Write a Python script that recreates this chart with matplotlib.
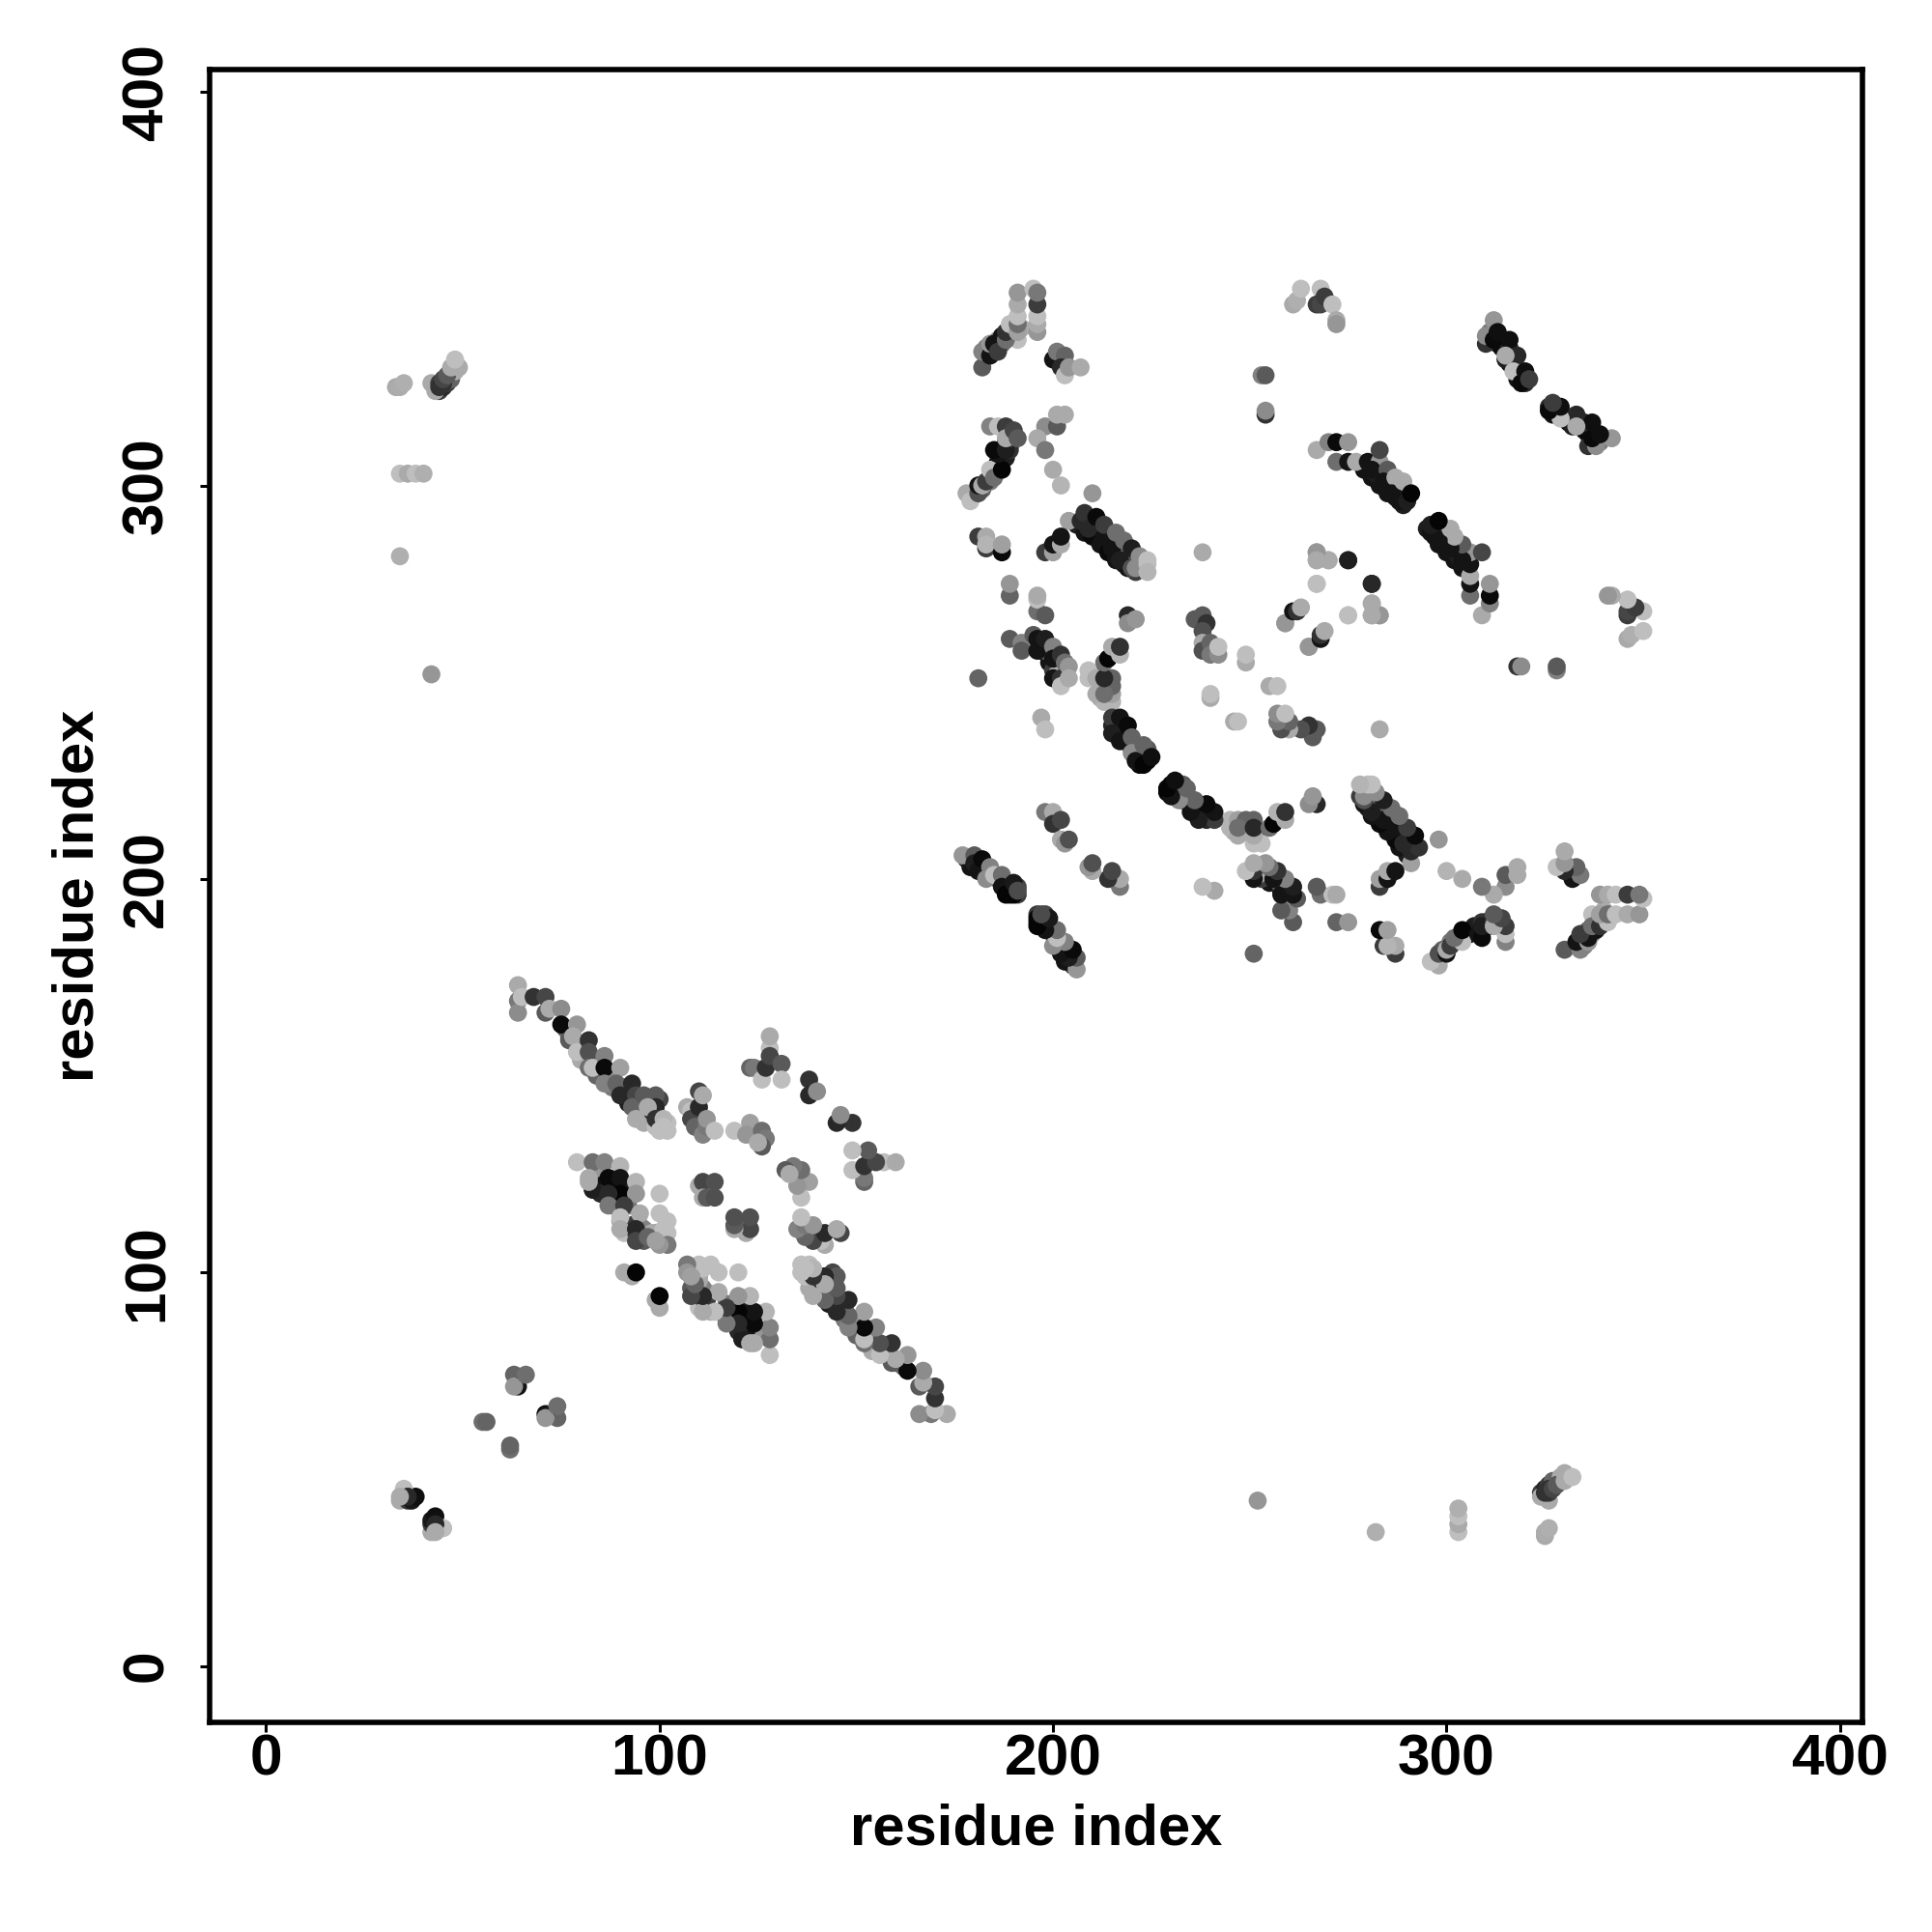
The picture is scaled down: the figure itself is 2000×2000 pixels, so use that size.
import matplotlib
matplotlib.use("Agg")
import matplotlib.pyplot as plt

plt.rcParams['font.family'] = ['Liberation Sans', 'DejaVu Sans']

tick_values = [0, 100, 200, 300, 400]
axis_title = "residue index"

# Each contact is read once (i < j, above the diagonal) and drawn at (i, j) and (j, i).
# Contacts hidden under the outer rows of each strand, drawn first.
under1_i = [76,77,80,80,84,84,88,88,91,92,92,95,95,97,96,99,98,100,102,102,100]
under1_j = [162,160,157,154,153,150,150,147,147,145,143,143,141,140,138,137,141,138,138,136,144]
under1_s = [100,100,120,170,120,100,140,120,60,40,30,80,120,90,170,190,40,60,190,190,70]

under2_i = [84,85,88,85,88,91,92,89,92,88,90,91,95,93,94,96,99,98,101,101,100,96]
under2_j = [124,122,121,120,123,121,122,119,117,117,113,110,112,112,110,111,110,110,109,111,108,108]
under2_s = [150,20,50,40,10,10,30,60,120,100,170,190,170,60,60,130,150,170,180,190,130,90]

under3_i = [183,183,185,186,187,187,189,190,188,192,191,196]
under3_j = [333,335,334,337,336,338,338,340,337,340,337,339]
under3_s = [60,130,20,150,100,20,20,60,120,170,190,150]

under4_i = [186,187,186,187,188,189,189,190,188,182,184,184,185]
under4_j = [304,306,306,308,307,310,309,312,311,299,301,302,304]
under4_s = [10,10,20,20,30,40,50,70,60,100,120,60,60]

under5_i = [206,208,210,212,214,216,218,219,221,210,212,214,216,218,220,222]
under5_j = [290,288,287,285,283,281,280,279,278,291,290,288,286,284,282,280]
under5_s = [30,20,10,20,10,20,30,20,60,40,60,70,90,100,90,120]

under6_i = [216,216,215,218,219,220,221,222,221,218,223,224,222,224]
under6_j = [240,238,239,236,235,233,232,231,234,238,232,230,229,233]
under6_s = [20,20,40,20,30,20,20,140,50,10,10,10,5,90]

under7_i = [197,199,200,201,200,198]
under7_j = [258,255,253,252,251,258]
under7_s = [10,20,60,170,20,100]

under8_i = [279,281,283,285,287,289,282,284,286,288]
under8_j = [304,302,300,298,297,295,303,301,299,297]
under8_s = [20,20,20,20,20,30,30,30,30,30]

under9_i = [311,311,313,314,315,316,316,317,318,319,318,320]
under9_j = [337,339,336,335,335,335,331,331,330,327,327,326]
under9_s = [40,120,10,10,15,40,10,15,170,10,20,40]

under10_i = [44,45,46,47,43,45,47,48]
under10_j = [324,325,326,327,324,326,329,329]
under10_s = [60,40,60,100,170,50,90,170]

under11_i = [178,179,181,183,183,186,188,189,187,191,191,189,189]
under11_j = [205,203,204,203,201,200,199,198,199,196,198,196,197]
under11_s = [50,20,100,30,40,20,110,60,100,60,70,10,30]

under12_i = [212,213,214,212,212]
under12_j = [246,245,247,250,252]
under12_s = [170,180,170,50,40]

nterm_i = [33,34,35,42,44,44,45,46,47,49,48]
nterm_j = [325,325,326,326,326,325,327,328,330,330,332]
nterm_s = [170,172,175,170,60,50,70,90,170,170,190]

far_i = [34,36,38,40,34,42]
far_j = [303,303,303,303,282,252]
far_s = [190,170,190,175,175,150]

near_i = [34,35,36,37,38,35,36,34]
near_j = [42,44,42,42,43,45,43,43]
near_s = [170,170,60,25,15,190,40,170]

short_i = [55,56,63,64,63,66]
short_j = [62,62,74,71,71,74]
short_s = [110,100,100,20,150,110]

strand1_i = [64,64,64,65,68,71,71,72,75,75,79,77,78,79,82,82,82,83,86,86,90,86,89,93,90,94,93,94,96,99,99,97,99,101,100,101]
strand1_j = [169,166,173,170,170,170,166,167,167,163,163,159,160,156,159,156,152,152,155,152,152,148,148,148,145,145,142,139,145,145,142,142,139,139,136,137]
strand1_s = [120,140,170,190,50,70,90,170,140,10,150,90,170,190,50,80,110,190,130,10,160,130,100,40,40,70,100,170,90,90,40,170,50,180,190,190]

hairpin_i = [123,124,126,127,128,128,128,131,131,138,138,140]
hairpin_j = [152,152,149,152,157,155,160,153,149,149,145,146]
hairpin_s = [100,120,190,50,190,70,170,90,190,50,40,140]

mid_i = [110,107,108,108,109,110,111,112,112,111,114]
mid_j = [146,142,141,139,137,142,135,137,139,145,136]
mid_s = [70,170,190,70,100,40,130,120,150,170,190]

mid2_i = [119,123,122,126,127,126,125]
mid2_j = [136,138,135,136,134,132,133]
mid2_s = [190,160,150,110,120,90,170]

core_i = [79,83,86,90,82,83,82,87,90,90,94,94,87,87,91,95,90,90,94,94,100,100,102,102,102,97,100,99]
core_j = [128,128,128,127,124,121,123,124,124,120,123,120,120,117,117,115,114,111,111,108,120,115,113,110,107,109,107,108]
core_s = [190,110,130,180,170,30,170,10,20,5,180,150,40,120,60,170,190,170,40,70,190,190,190,190,120,100,150,160]

lone_i = [91,93,94]
lone_j = [100,99,100]
lone_s = [170,170,5]

central_i = [110,111,114,111,112,114]
central_j = [122,123,123,119,119,119]
central_s = [170,70,80,170,90,80]

top_i = [182,182,184,184,185,186,188,188,189,191,191,191,191,191,196,196,195,196,196]
top_j = [330,334,333,336,336,334,337,339,341,339,341,343,346,349,341,343,350,346,349]
top_s = [90,130,20,150,20,60,110,50,190,160,110,190,170,150,170,190,190,60,120]

top2_i = [200,201,203,202,203,204,207]
top2_j = [332,334,333,330,328,330,330]
top2_s = [20,120,100,40,190,150,170]

arc_i = [178,179,181,181,182,183,184,185,187,186,185,188,189,184,186,188,188,190,191]
arc_j = [298,296,298,300,300,301,304,302,304,308,309,309,312,315,315,315,312,314,312]
arc_s = [170,190,80,20,170,60,190,110,5,20,10,30,60,130,190,60,170,70,90]

scatter1_i = [198,201,201,203,196,198,200,202,210,204]
scatter1_j = [315,315,318,318,312,309,304,300,298,291]
scatter1_s = [140,90,170,170,170,120,170,180,150,160]

strand2_i = [207,208,209,211,213,213,215,216,218,217,220,220,222,221,224,224,224]
strand2_j = [291,293,289,292,287,290,284,288,286,281,284,279,282,279,281,280,278]
strand2_s = [40,50,40,10,20,60,20,110,110,30,30,80,140,140,190,190,180]

pair1_i = [181,183,183,183,187,187]
pair1_j = [287,287,284,285,283,285]
pair1_s = [60,170,60,180,10,160]

pair2_i = [198,200,200,202,202]
pair2_j = [283,283,285,285,287]
pair2_s = [60,160,20,170,20]

scatter2_i = [238,189,189,196,196,196,198]
scatter2_j = [283,272,275,268,271,272,267]
scatter2_s = [170,100,150,110,190,170,90]

pair3_i = [219,219,221]
pair3_j = [267,265,266]
pair3_s = [40,140,150]

block_i = [236,238,239,238,238,238,240,240,242,242]
block_j = [266,267,265,263,260,258,260,257,257,259]
block_s = [90,90,50,80,170,80,100,120,140,190]

pair4_i = [249,249,259,259,261,262,263]
pair4_j = [255,257,265,265,268,268,269]
pair4_s = [170,190,170,150,20,50,170]

wide_i = [189,192,192,195,196,196,198,200,200,202,202,202,203,204,204]
wide_j = [261,260,258,262,258,261,261,259,256,257,251,249,255,254,251]
wide_s = [90,130,90,90,20,20,30,130,20,50,50,190,110,150,170]

scatter3_i = [181,197,198,240,240]
scatter3_j = [251,241,238,246,247]
scatter3_s = [100,170,190,170,190]

link_i = [209,209,211,211,215,215,215,215,213,213,213,214,215,217,217]
link_j = [253,251,251,247,245,247,249,251,247,251,255,256,259,257,259]
link_s = [190,190,170,170,180,160,100,100,110,40,110,5,170,180,50]

strand3_i = [215,217,215,217,219,220,220,221,223,223,225]
strand3_j = [241,241,237,235,239,236,232,230,229,234,231]
strand3_s = [60,20,30,20,10,100,140,20,5,100,15]

low_i = [198,200,200,202,202,203,204]
low_j = [217,217,214,215,210,209,210]
low_s = [120,170,50,70,170,150,80]

diag_i = [177,180,180,181,182,184,183,185,187,187,188,190,190,191]
diag_j = [206,206,204,202,205,203,200,201,201,198,196,196,199,197]
diag_s = [150,90,30,20,10,130,140,190,110,20,5,5,25,75]

corner_i = [261,262,263,268,267,268,269,271,272,272]
corner_j = [346,347,350,350,346,346,348,346,342,341]
corner_s = [170,175,190,190,60,70,60,190,170,150]

pair5_i = [253,254,254,254]
pair5_j = [328,328,318,319]
pair5_s = [130,90,50,140]

cterm_i = [310,310,312,312,313,316,315,318,315,317,319,320,321]
cterm_j = [336,338,337,342,339,337,332,333,333,329,326,329,327]
cterm_s = [50,140,10,150,15,15,30,40,170,190,10,15,60]

strand4_i = [267,270,272,272,275,275,277,280,283,283,281,285,284,287,286,289,288,290,291]
strand4_j = [309,311,311,306,306,311,306,306,306,309,304,304,301,302,298,301,296,296,298]
strand4_s = [170,130,10,110,20,150,170,20,150,70,20,90,20,170,20,170,20,30,5]

scatter4_i = [267,267,270,275,267,281,281,283,281,275]
scatter4_j = [283,281,281,281,275,275,270,267,267,267]
scatter4_s = [150,170,170,40,190,30,170,150,170,190]

groups = [
    (under1_i, under1_j, under1_s), (under2_i, under2_j, under2_s),
    (under3_i, under3_j, under3_s), (under4_i, under4_j, under4_s),
    (under5_i, under5_j, under5_s), (under6_i, under6_j, under6_s),
    (under7_i, under7_j, under7_s), (under8_i, under8_j, under8_s),
    (under9_i, under9_j, under9_s), (under10_i, under10_j, under10_s),
    (under11_i, under11_j, under11_s), (under12_i, under12_j, under12_s),
    (nterm_i, nterm_j, nterm_s), (far_i, far_j, far_s), (near_i, near_j, near_s),
    (short_i, short_j, short_s), (strand1_i, strand1_j, strand1_s),
    (hairpin_i, hairpin_j, hairpin_s), (mid_i, mid_j, mid_s), (mid2_i, mid2_j, mid2_s),
    (core_i, core_j, core_s), (lone_i, lone_j, lone_s), (central_i, central_j, central_s),
    (top_i, top_j, top_s), (top2_i, top2_j, top2_s), (arc_i, arc_j, arc_s),
    (scatter1_i, scatter1_j, scatter1_s), (strand2_i, strand2_j, strand2_s),
    (pair1_i, pair1_j, pair1_s), (pair2_i, pair2_j, pair2_s),
    (scatter2_i, scatter2_j, scatter2_s), (pair3_i, pair3_j, pair3_s),
    (block_i, block_j, block_s), (pair4_i, pair4_j, pair4_s), (wide_i, wide_j, wide_s),
    (scatter3_i, scatter3_j, scatter3_s), (link_i, link_j, link_s),
    (strand3_i, strand3_j, strand3_s), (low_i, low_j, low_s), (diag_i, diag_j, diag_s),
    (corner_i, corner_j, corner_s), (pair5_i, pair5_j, pair5_s),
    (cterm_i, cterm_j, cterm_s), (strand4_i, strand4_j, strand4_s),
    (scatter4_i, scatter4_j, scatter4_s),
]

fig = plt.figure(figsize=(20, 20), dpi=100, facecolor="white")
ax = fig.add_axes([217 / 2000, 217 / 2000, 1711 / 2000, 1711 / 2000])

for gi, gj, gs in groups:
    shades = [str(v / 255) for v in gs]
    ax.scatter(gi, gj, s=181, c=shades, linewidths=0, zorder=3)
    ax.scatter(gj, gi, s=181, c=shades, linewidths=0, zorder=3)

ax.set_xlim(-14.36, 405.7)
ax.set_ylim(-14.36, 405.7)
ax.set_xticks(tick_values)
ax.set_yticks(tick_values)
ax.set_xticklabels([str(v) for v in tick_values], fontsize=43.5, fontweight="bold")
ax.set_yticklabels([str(v) for v in tick_values], fontsize=43.5, fontweight="bold",
                   rotation=90, va="center")
ax.tick_params(axis="both", length=7.2, width=2.2)
ax.tick_params(axis="x", pad=1)
ax.tick_params(axis="y", pad=19)
for spine in ax.spines.values():
    spine.set_linewidth(4.0)
ax.set_xlabel(axis_title, fontsize=43, fontweight="bold", labelpad=12)
ax.set_ylabel(axis_title, fontsize=43, fontweight="bold", labelpad=12)

fig.savefig("out.png", dpi=100, facecolor="white")
